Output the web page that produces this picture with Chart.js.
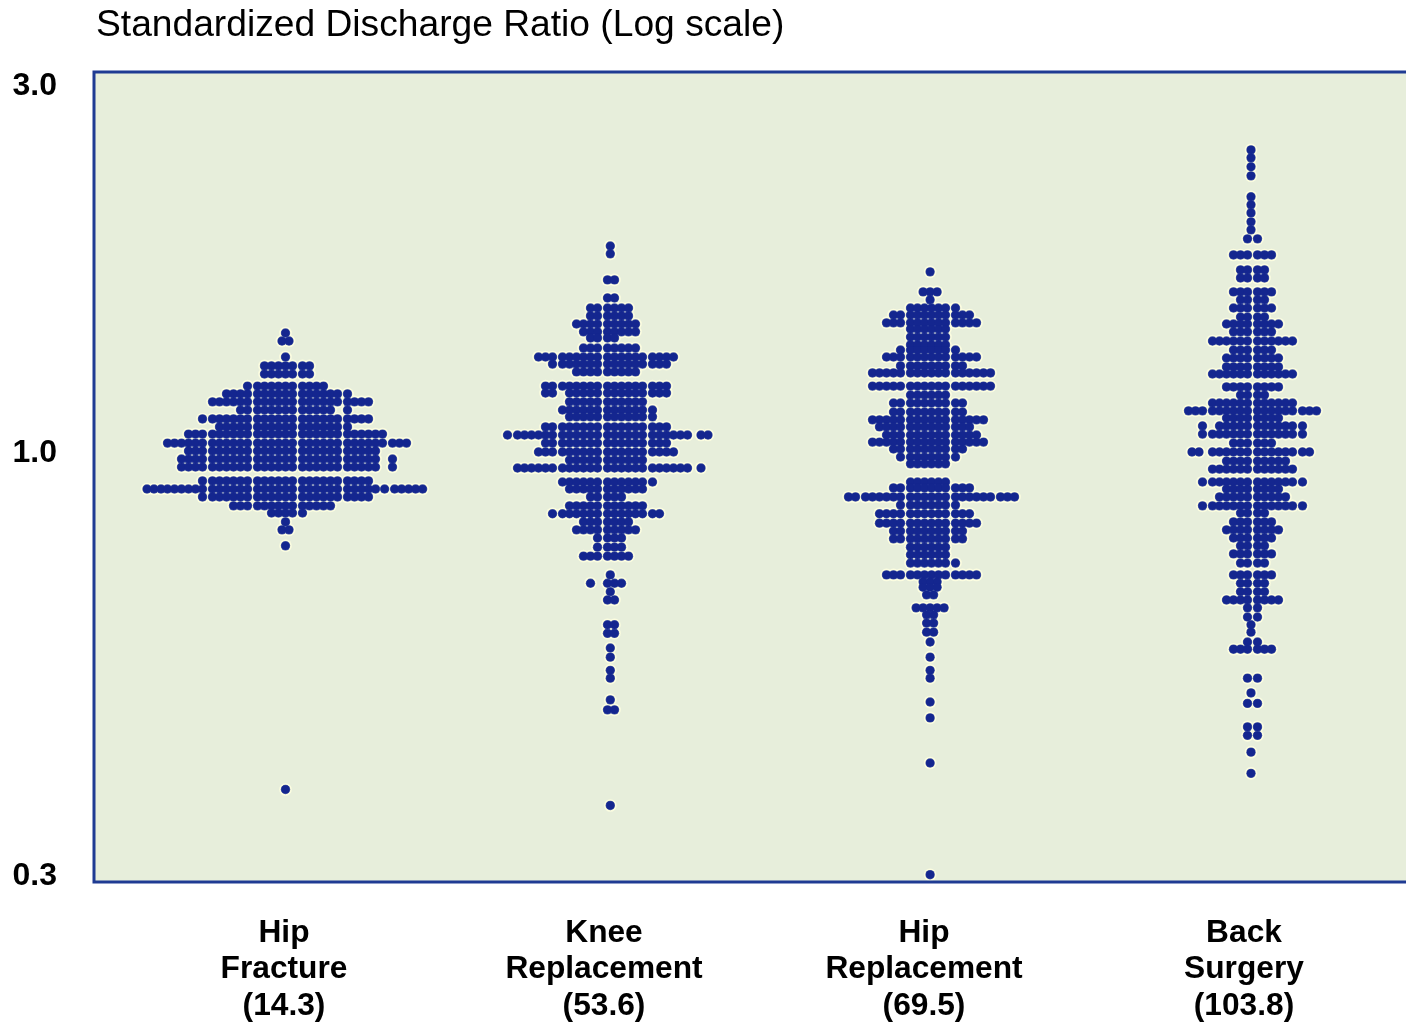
<!DOCTYPE html>
<html>
<head>
<meta charset="utf-8">
<style>html,body{margin:0;padding:0;background:#fff;overflow:hidden}#w{width:1406px;height:1022px;position:relative}</style>
<script src="https://cdn.jsdelivr.net/npm/chart.js@4/dist/chart.umd.min.js"></script>
</head>
<body>
<div id="w"><canvas id="c" width="1406" height="1022"></canvas></div>
<script>
const chartTitle = 'Standardized Discharge Ratio (Log scale)';
const categories = [['Hip','Fracture','(14.3)'],['Knee','Replacement','(53.6)'],['Hip','Replacement','(69.5)'],['Back','Surgery','(103.8)']];
const categoryTicks = [190,510,830,1150];
const yTickValues = [3.0,1.0,0.2816];
const yTickLabels = ['3.0','1.0','0.3'];

// Each row of dots: one ratio, and its runs of column numbers [from,to,from,to...]
const hipFractureRatios = [1.428,1.394,1.329,1.294,1.263,1.218,1.190,1.162,1.134,1.104,1.078,1.055,1.027,1.003,.979,.956,.917,.895,.874,.851,.833,.811,.792,.755,.364];
const hipFractureColumns = [[-2,-2],[-2.5,-1.5],[-2,-2],[-5,1],[-5,1],[-7,3],[-10,6],[-12,9],[-8,4,6,6],[-13,9],[-11,6],[-15,11],[-18,14],[-15,10],[-16,10,12,12],[-16,10,12,12],[-13,9],[-20.5,-18.5,-18,10,11.3,16.3],[-13,9],[-9,4],[-4,0],[-2,-2],[-2.5,-1.5],[-2,-2],[-2,-2]];

const kneeRatios = [1.853,1.810,1.674,1.586,1.539,1.503,1.467,1.433,1.407,1.365,1.329,1.301,1.271,1.218,1.193,1.162,1.134,1.111,1.078,1.052,1.027,1.000,.976,.953,.914,.895,.874,.851,.831,.811,.792,.773,.752,.732,.692,.675,.658,.642,.596,.581,.556,.541,.520,.508,.476,.462,.347];
const kneeColumns = [[.4,.4],[.4,.4],[0,1],[0,1],[-2,3],[-2,3],[-4,4],[-3,4],[-2,1],[-3,4],[-9,9],[-7,8],[-4,4],[-8,8],[-8,-7,-5,8],[-5,5],[-6,6],[-5,6],[-8,8],[-13,11,12.5,13.5],[-8,8],[-9,9],[-5,5],[-12,11,12.5,12.5],[-6,6],[-5,5],[-2,2],[-5,5],[-7,7],[-3,3],[-4,4],[-1,2],[-1,2],[-3,3],[.4,.4],[-2,-2,0,2],[.4,.4],[0,1],[0,1],[0,1],[.4,.4],[.4,.4],[.4,.4],[.4,.4],[.4,.4],[0,1],[.4,.4]];

const hipReplacementRatios = [1.715,1.615,1.577,1.539,1.507,1.472,1.445,1.411,1.378,1.357,1.329,1.294,1.267,1.218,1.186,1.158,1.127,1.101,1.078,1.052,1.030,1.009,.985,.965,.914,.898,.874,.853,.831,.808,.789,.771,.752,.735,.717,.692,.678,.667,.652,.627,.614,.599,.583,.566,.541,.520,.508,.473,.451,.394,.282];
const hipReplacementColumns = [[2.8,2.8],[1.8,3.8],[2.8,2.8],[0,6],[-2,8],[-3,9],[0,5],[0,5],[0,5],[-1,6],[-3,9],[-1,7],[-5,11],[-5,11],[0,5],[-2,7],[-2,7],[-5,10],[-4,8],[-3,9],[-5,10],[-2,7],[-1,6],[0,5],[0,5],[-2,8],[-8,14],[-1,6],[-4,8],[-4,9],[-2,7],[-2,7],[0,5],[0,5],[0,6],[-3,9],[1.8,3.8],[1.8,3.8],[2.3,3.3],[.8,4.8],[2.3,3.3],[2.3,3.3],[2.3,3.3],[2.8,2.8],[2.8,2.8],[2.8,2.8],[2.8,2.8],[2.8,2.8],[2.8,2.8],[2.8,2.8],[2.8,2.8]];

const backRatios = [2.471,2.413,2.349,2.286,2.147,2.096,2.046,1.992,1.945,1.893,1.804,1.725,1.684,1.615,1.577,1.539,1.498,1.467,1.433,1.394,1.357,1.325,1.290,1.263,1.215,1.186,1.158,1.131,1.107,1.081,1.055,1.027,1.000,.973,.950,.914,.895,.874,.851,.833,.811,.792,.773,.755,.737,.717,.692,.675,.658,.642,.627,.610,.596,.583,.566,.554,.508,.486,.471,.439,.428,.407,.382];
const backColumns = [[-.5,-.5],[-.5,-.5],[-.5,-.5],[-.5,-.5],[-.5,-.5],[-.5,-.5],[-.5,-.5],[-.5,-.5],[-.5,-.5],[-1,0],[-3,2],[-2,1],[-2,1],[-3,2],[-2,1],[-3,2],[-2,1],[-4,3],[-3,2],[-6,5],[-3,2],[-4,3],[-4,3],[-6,5],[-4,3],[-2,1],[-6,5],[-9,8],[-4,3],[-7,-7,-5,6],[-7,6],[-3,2],[-8.5,-7.5,-6,7],[-4,4],[-6,5],[-7,6],[-4,3],[-5,4],[-7,-7,-6,6],[-2,1],[-3,2],[-4,3],[-3,2],[-2,1],[-3,2],[-2,1],[-3,2],[-2,1],[-2,1],[-4,3],[-1,0],[-1,0],[-.5,-.5],[-.5,-.5],[-1,0],[-3,2],[-1,0],[-.5,-.5],[-1,0],[-1,0],[-1,0],[-.5,-.5],[-.5,-.5]];

const groupRatios = [hipFractureRatios,kneeRatios,hipReplacementRatios,backRatios];
const groupColumns = [hipFractureColumns,kneeColumns,hipReplacementColumns,backColumns];
const groupGaps = [204,509,812,1159];

const dotColor = '#14268f', ringColor = '#4a5ba6', haloColor = '#fcfde0', panelColor = '#e7eedb', frameColor = '#1f3b93';
const FONT = '"Liberation Sans", Arial, sans-serif';

// Dots sit in clumps of six columns with a thin gap between the clumps.
function columnX(gap, m){
  const f = Math.floor(m/6);
  return gap + 4.5 + 7*(m - 6*f) + 45*f;
}
function points(g){
  const out = [];
  groupRatios[g].forEach((v,i)=>{
    const runs = groupColumns[g][i];
    for(let r=0;r<runs.length;r+=2){
      for(let m=runs[r];m<=runs[r+1]+1e-6;m+=1){
        out.push({x:columnX(groupGaps[g],m),y:v});
      }
    }
  });
  return out;
}
function layer(label,g,order,radius,color){
  return {label,data:points(g),order,pointRadius:radius,pointHoverRadius:radius,pointBackgroundColor:color,pointBorderColor:color,pointBorderWidth:0};
}
const datasets = [];
categories.forEach((c,g)=>{
  const name = c.join(' ');
  datasets.push(layer(name+' halo',g,3,6.3,haloColor));
  datasets.push(layer(name+' edge',g,2,4.7,ringColor));
  datasets.push(layer(name,g,1,4.1,dotColor));
});

const panel = {
  id:'panel',
  afterLayout(ch){ ch.titleBlock.left += 2; },
  beforeDatasetsDraw(ch){
    const a = ch.chartArea, x = ch.ctx;
    x.save();
    x.fillStyle = panelColor;
    x.fillRect(a.left,a.top,a.right-a.left,a.bottom-a.top);
    x.restore();
  },
  afterDatasetsDraw(ch){
    const a = ch.chartArea, x = ch.ctx;
    x.save();
    x.strokeStyle = frameColor; x.lineWidth = 3;
    x.beginPath();
    x.moveTo(a.right,a.top); x.lineTo(a.left,a.top); x.lineTo(a.left,a.bottom); x.lineTo(a.right,a.bottom);
    x.stroke();
    x.restore();
  }
};

new Chart(document.getElementById('c'),{
  type:'scatter',
  data:{datasets},
  plugins:[panel],
  options:{
    responsive:false,animation:false,
    layout:{padding:0,autoPadding:false},
    plugins:{
      legend:{display:false},tooltip:{enabled:false},
      title:{display:true,text:chartTitle,align:'start',fullSize:false,color:'#000',
        font:{family:FONT,size:37.2,weight:'normal',lineHeight:1.2},padding:{top:3.5,bottom:23.86}}
    },
    scales:{
      x:{type:'linear',min:0,max:1312,
        grid:{display:false,drawTicks:false},border:{display:false},
        afterBuildTicks(s){ s.ticks = categoryTicks.map(v=>({value:v})); },
        afterFit(s){ s.height = 140; s.paddingLeft = 0; s.paddingRight = 0; },
        ticks:{autoSkip:false,maxRotation:0,minRotation:0,padding:33,color:'#000',
          font:{family:FONT,size:31.7,weight:'bold',lineHeight:1.15},
          callback(v){ return categories[categoryTicks.indexOf(v)]; }}
      },
      y:{type:'logarithmic',min:0.2759,max:3.12,
        grid:{display:false,drawTicks:false},border:{display:false},
        afterBuildTicks(s){ s.ticks = yTickValues.map(v=>({value:v})); },
        afterFit(s){ s.width = 94; s.paddingTop = 0; s.paddingBottom = 0; },
        ticks:{autoSkip:false,padding:37,color:'#000',labelOffset:1.5,
          font:{family:FONT,size:32,weight:'bold'},
          callback(v){ return yTickLabels[yTickValues.indexOf(v)]; }}
      }
    }
  }
});
</script>
</body>
</html>
